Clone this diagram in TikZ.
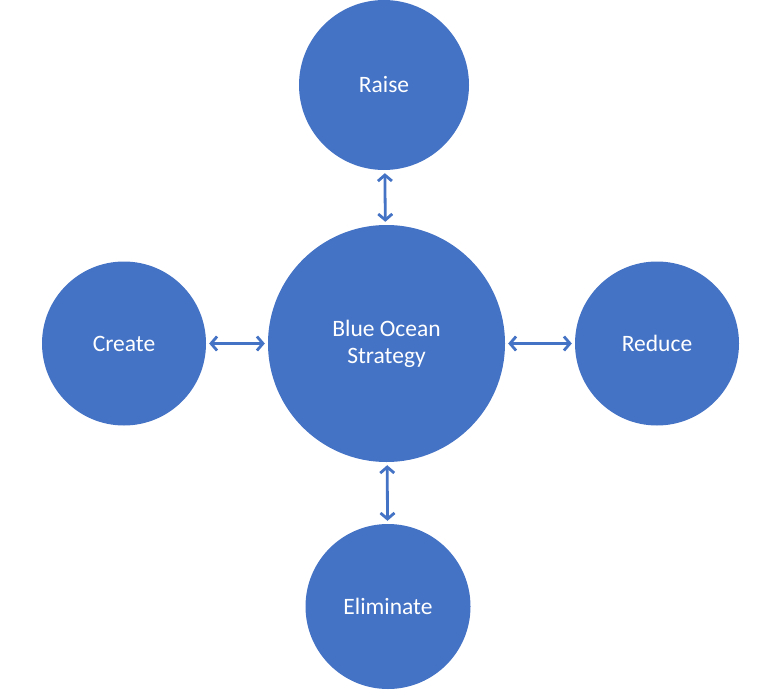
\documentclass[tikz,border=0pt]{standalone}
\usepackage{fontspec}
\setmainfont{Carlito}
\usetikzlibrary{arrows.meta}
\definecolor{oceanblue}{HTML}{4472C4}
\tikzset{
  bubble/.style={circle, fill=oceanblue, text=white, inner sep=0pt, align=center,
    font=\fontsize{23.5}{27}\selectfont},
  link/.style={{Straight Barb[length=6pt,width=14pt]}-{Straight Barb[length=6pt,width=14pt]},
    oceanblue, line width=2.8pt, shorten <=3pt, shorten >=3pt}
}
\begin{document}
\begin{tikzpicture}[x=1pt, y=-1pt]
  \useasboundingbox (0,0) rectangle (781,693);

  % Centre circle
  \node[bubble, minimum size=237pt] (bos) at (386.5,343.5) {Blue Ocean\\Strategy};

  % Four actions
  \node[bubble, minimum size=170pt] (raise) at (384,85) {Raise};
  \node[bubble, minimum size=164pt] (create) at (124,343.5) {Create};
  \node[bubble, minimum size=164pt] (reduce) at (657,343.5) {Reduce};
  \node[bubble, minimum size=165pt] (elim) at (388,606.5) {Eliminate};

  % Links
  \draw[link] (raise) -- (bos);
  \draw[link] (create) -- (bos);
  \draw[link] (bos) -- (reduce);
  \draw[link] (bos) -- (elim);
\end{tikzpicture}
\end{document}
